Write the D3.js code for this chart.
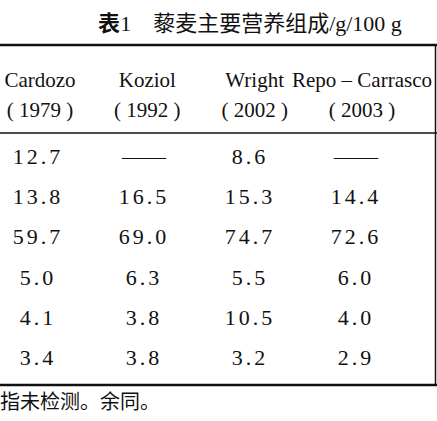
<!DOCTYPE html>
<html><head><meta charset="utf-8">
<script src="https://cdn.jsdelivr.net/npm/d3@7"></script>
<style>body{margin:0;background:#fff}</style></head>
<body><script>
const authors = ["Cardozo","Koziol","Wright","Repo – Carrasco"];
const years = ["( 1979 )","( 1992 )","( 2002 )","( 2003 )"];
const rows = [
  ["12.7","—","8.6","—"],
  ["13.8","16.5","15.3","14.4"],
  ["59.7","69.0","74.7","72.6"],
  ["5.0","6.3","5.5","6.0"],
  ["4.1","3.8","10.5","4.0"],
  ["3.4","3.8","3.2","2.9"]
];
const W=437,H=421;
const svg=d3.select("body").append("svg").attr("width",W).attr("height",H);
const serif="'Liberation Serif','DejaVu Serif',serif";
const cjk="'Noto Sans CJK SC',sans-serif";
const x=d3.scalePoint().domain(d3.range(4)).range([40,362]);
const xd=d3.scalePoint().domain(d3.range(4)).range([38,356]);
const y=d3.scaleLinear().domain([0,5]).range([156,357]);
const t=svg.append("text").attr("x",250).attr("y",31).attr("text-anchor","middle").attr("font-size",22).attr("fill","#111");
t.append("tspan").attr("font-family",cjk).attr("font-weight","bold").text("表");
t.append("tspan").attr("font-family",serif).text("1");
t.append("tspan").attr("font-family",cjk).attr("dx",22).text("藜麦主要营养组成");
t.append("tspan").attr("font-family",serif).text("/g/100 g");
const line=(y0,w)=>svg.append("line").attr("x1",0).attr("x2",W).attr("y1",y0).attr("y2",y0).attr("stroke","#111").attr("stroke-width",w);
line(45,2.5);line(133,1.5);line(385,2.5);
svg.append("line").attr("x1",435.5).attr("x2",435.5).attr("y1",45).attr("y2",385).attr("stroke","#111").attr("stroke-width",1.5);
svg.selectAll(".a").data(authors).join("text").attr("x",(d,i)=>x(i)).attr("y",87).attr("text-anchor","middle")
 .attr("font-family",serif).attr("font-size",21).attr("fill","#111").text(d=>d);
svg.selectAll(".yr").data(years).join("text").attr("x",(d,i)=>x(i)).attr("y",117).attr("text-anchor","middle")
 .attr("font-family",serif).attr("font-size",21).attr("fill","#111").text(d=>d);
rows.forEach((r,ri)=>{
  svg.selectAll(".r"+ri).data(r).join("text").attr("x",(d,i)=>xd(i)).attr("y",y(ri)+8).attr("text-anchor","middle")
   .attr("font-family",serif).attr("font-size",22).attr("letter-spacing",d=>d==="—"?0:3).attr("fill","#111").text(d=>d==="—"?"——":d);
});
svg.append("text").attr("x",0).attr("y",409).attr("font-family",cjk).attr("font-size",20).attr("fill","#111").text("指未检测。余同。");
</script></body></html>
